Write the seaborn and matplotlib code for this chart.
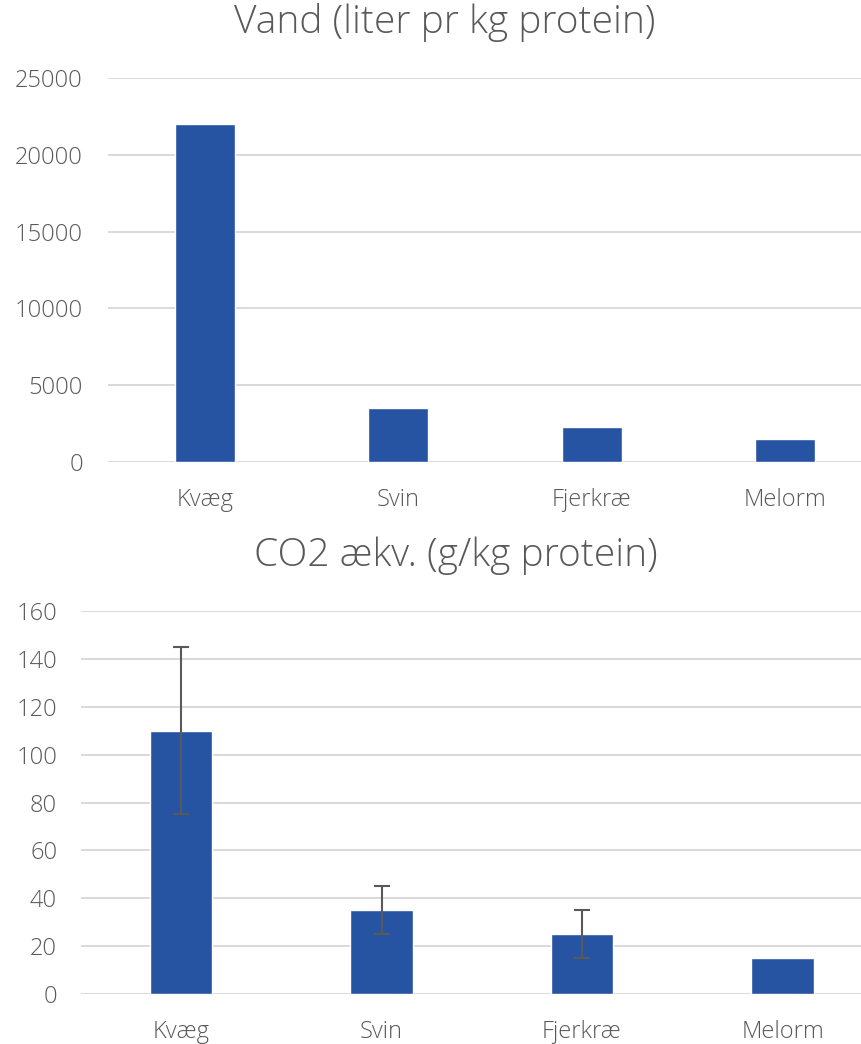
import matplotlib
matplotlib.use("Agg")
import matplotlib.pyplot as plt
import seaborn as sns
import pandas as pd

# Data
categories = ["Kvæg", "Svin", "Fjerkræ", "Melorm"]
water_values = [22000, 3500, 2300, 1500]
co2_values = [110, 35, 25, 15]
co2_errors = [35, 10, 10, 0]
water_ticks = [0, 5000, 10000, 15000, 20000, 25000]
co2_ticks = [0, 20, 40, 60, 80, 100, 120, 140, 160]

water_title = "Vand (liter pr kg protein)"
co2_title = "CO2 ækv. (g/kg protein)"

bar_color = "#2653A2"
text_color = "#595959"
grid_color = "#D9D9D9"

sns.set_theme(style="white")
plt.rcParams["font.family"] = ["Open Sans", "DejaVu Sans"]

fig = plt.figure(figsize=(8.61, 10.44), dpi=100)

def style_axis(ax, ticks, pad_y):
    ax.set_xlim(-0.5, 3.5)
    ax.set_ylim(ticks[0], ticks[-1])
    ax.set_yticks(ticks)
    ax.set_yticklabels([str(t) for t in ticks])
    ax.set_xlabel("")
    ax.set_ylabel("")
    for s in ax.spines.values():
        s.set_visible(False)
    ax.yaxis.grid(True, color=grid_color, linewidth=1.4)
    ax.set_axisbelow(True)
    ax.tick_params(axis="y", length=0, pad=pad_y, labelsize=17, labelcolor=text_color)
    ax.tick_params(axis="x", length=0, pad=19, labelsize=17, labelcolor=text_color)
    for lbl in ax.get_xticklabels() + ax.get_yticklabels():
        lbl.set_fontweight("light")

# Top chart: water
ax1 = fig.add_axes([108 / 861, 1 - 462 / 1044, 774 / 861, 384 / 1044])
df_water = pd.DataFrame({"kategori": categories, "vand": water_values})
sns.barplot(data=df_water, x="kategori", y="vand", color=bar_color,
            width=0.31, saturation=1, ax=ax1)
style_axis(ax1, water_ticks, 18)

# Bottom chart: CO2
ax2 = fig.add_axes([80.75 / 861, 1 - 994 / 1044, 802 / 861, 383 / 1044])
df_co2 = pd.DataFrame({"kategori": categories, "co2": co2_values, "fejl": co2_errors})
sns.barplot(data=df_co2, x="kategori", y="co2", color=bar_color,
            width=0.31, saturation=1, ax=ax2)
err_idx = [i for i, e in enumerate(co2_errors) if e > 0]
ax2.errorbar(err_idx, [co2_values[i] for i in err_idx],
             yerr=[co2_errors[i] for i in err_idx], fmt="none",
             ecolor=text_color, elinewidth=1.5, capsize=6, capthick=1.5, zorder=5)
style_axis(ax2, co2_ticks, 17)

fig.text(445 / 861, 1 - 22 / 1044, water_title, ha="center", va="center",
         fontsize=28, color=text_color, fontweight="light")
fig.text(456 / 861, 1 - 556 / 1044, co2_title, ha="center", va="center",
         fontsize=28, color=text_color, fontweight="light")

fig.savefig("out.png", dpi=100)
